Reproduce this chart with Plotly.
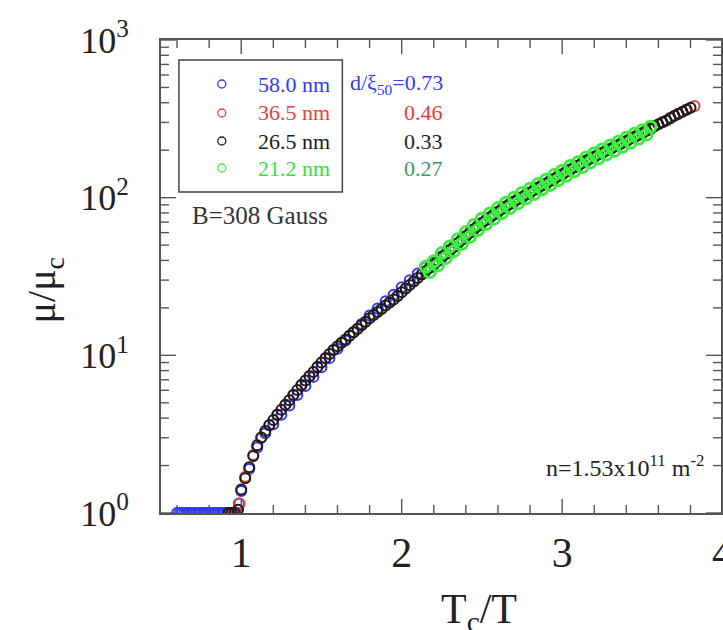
import plotly.graph_objects as go
import math

# ---------------- data ----------------
blue_x = [0.600, 0.615, 0.630, 0.645, 0.660, 0.675, 0.690, 0.705, 0.720, 0.735, 0.750, 0.765,
          0.780, 0.795, 0.810, 0.825, 0.840, 0.855, 0.870, 0.885, 0.900, 0.915, 0.930, 0.945,
          0.960, 0.985,
          1.00, 1.05, 1.10, 1.15, 1.20, 1.25, 1.30, 1.35, 1.40, 1.45, 1.50, 1.55, 1.60, 1.65,
          1.70, 1.75, 1.80, 1.85, 1.90, 1.95, 2.00, 2.05, 2.10, 2.15, 2.20, 2.25, 2.30, 2.35,
          2.40, 2.45, 2.50, 2.55, 2.60, 2.65, 2.70, 2.75, 2.80, 2.85, 2.90, 2.95, 3.00, 3.05,
          3.10, 3.15, 3.20, 3.25, 3.30, 3.35, 3.40, 3.45, 3.50, 3.55]
blue_y = [1.0, 1.0, 1.0, 1.0, 1.0, 1.0, 1.0, 1.0, 1.0, 1.0, 1.0, 1.0,
          1.0, 1.0, 1.0, 1.0, 1.0, 1.0, 1.0, 1.0, 1.0, 1.0, 1.0, 1.0,
          1.0, 1.15,
          1.38, 1.9, 2.6, 3.2, 3.65, 4.2, 4.8, 5.6, 6.4, 7.3, 8.4, 9.6, 11.0, 12.4,
          14.0, 15.8, 17.9, 19.8, 22.0, 24.2, 27.0, 29.9, 33.0, 36.2, 38.8, 42.5, 46.8, 51.6,
          57.2, 63.0, 69.0, 74.8, 81.0, 87.6, 94.0, 100, 107, 115, 122, 131, 140, 150,
          159, 170, 181, 192, 203, 215, 228, 241, 256, 272]

red_x = [0.95, 0.97, 0.99,
         1.025, 1.075, 1.125, 1.175, 1.225, 1.275, 1.325, 1.375, 1.425, 1.475, 1.525, 1.575,
         1.625, 1.675, 1.725, 1.775, 1.825, 1.875, 1.925, 1.975, 2.025, 2.075, 2.125, 2.175,
         2.225, 2.275, 2.325, 2.375, 2.425, 2.475, 2.525, 2.575, 2.625, 2.675, 2.725, 2.775,
         2.825, 2.875, 2.925, 2.975, 3.025, 3.075, 3.125, 3.175, 3.225, 3.275, 3.325, 3.375,
         3.425, 3.475, 3.525, 3.575, 3.625, 3.675, 3.725, 3.775, 3.825]
red_y = [1.0, 1.0, 1.15,
         1.70, 2.33, 3.02, 3.62, 4.22, 4.88, 5.62, 6.50, 7.40, 8.45, 9.62, 10.8,
         12.0, 13.3, 14.8, 16.4, 18.0, 19.8, 21.7, 23.9, 26.5, 29.5, 32.8, 36.0,
         39.8, 44.0, 48.8, 54.2, 60.2, 66.3, 72.2, 78.3, 84.9, 91.4, 98.0, 105,
         112, 120, 128, 137, 146, 156, 166, 177, 188, 199, 210, 223,
         236, 250, 266, 284, 301, 320, 341, 362, 382]

black_x = [0.92, 0.94, 0.96, 0.98,
           1.000, 1.025, 1.050, 1.075, 1.100, 1.125, 1.150, 1.175, 1.200, 1.225, 1.250, 1.275,
           1.300, 1.325, 1.350, 1.375, 1.400, 1.425, 1.450, 1.475, 1.500, 1.525, 1.550, 1.575,
           1.600, 1.625, 1.650, 1.675, 1.700, 1.725, 1.750, 1.775, 1.800, 1.825, 1.850, 1.875,
           1.900, 1.925, 1.950, 1.975, 2.000, 2.025, 2.050, 2.075, 2.100, 2.125, 2.150, 2.175,
           2.200, 2.225, 2.250, 2.275, 2.300, 2.325, 2.350, 2.375, 2.400, 2.425, 2.450, 2.475,
           2.500, 2.525, 2.550, 2.575, 2.600, 2.625, 2.650, 2.675, 2.700, 2.725, 2.750, 2.775,
           2.800, 2.825, 2.850, 2.875, 2.900, 2.925, 2.950, 2.975, 3.000, 3.025, 3.050, 3.075,
           3.100, 3.125, 3.150, 3.175, 3.200, 3.225, 3.250, 3.275, 3.300, 3.325, 3.350, 3.375,
           3.400, 3.425, 3.450, 3.475, 3.500, 3.525, 3.550, 3.575, 3.600, 3.625, 3.650, 3.675,
           3.700, 3.725, 3.750, 3.775, 3.800]
black_y = [1.0, 1.0, 1.0, 1.05,
           1.41, 1.66, 1.95, 2.30, 2.69, 3.00, 3.31, 3.60, 3.89, 4.20, 4.52, 4.85,
           5.19, 5.60, 6.03, 6.46, 6.92, 7.38, 7.85, 8.42, 9.02, 9.60, 10.2, 10.8,
           11.4, 12.0, 12.6, 13.3, 14.0, 14.7, 15.5, 16.3, 17.2, 18.0, 18.8, 19.7,
           20.7, 21.6, 22.6, 23.8, 25.1, 26.5, 27.9, 29.4, 30.9, 32.6, 34.3, 35.9,
           37.6, 39.6, 41.7, 43.9, 46.2, 48.7, 51.3, 54.0, 56.9, 59.9, 63.1, 66.1,
           69.2, 72.1, 75.0, 78.1, 81.3, 84.6, 88.1, 91.2, 94.4, 97.6, 101, 104.5,
           108, 112, 116, 119.5, 123, 127.5, 132, 136.5, 141, 146, 151, 155.5,
           160, 166, 172, 177, 182, 187.5, 193, 198.5, 204, 210, 216, 222.5,
           229, 236, 243, 250, 257, 266, 275, 283.5, 292, 300.5, 309, 320,
           331, 341, 351, 361.5, 372]

green_x = [2.150, 2.175, 2.200, 2.225, 2.250, 2.275, 2.300, 2.325, 2.350, 2.375, 2.400, 2.425,
           2.450, 2.475, 2.500, 2.525, 2.550, 2.575, 2.600, 2.625, 2.650, 2.675, 2.700, 2.725,
           2.750, 2.775, 2.800, 2.825, 2.850, 2.875, 2.900, 2.925, 2.950, 2.975, 3.000, 3.025,
           3.050, 3.075, 3.100, 3.125, 3.150, 3.175, 3.200, 3.225, 3.250, 3.275, 3.300, 3.325,
           3.350, 3.375, 3.400, 3.425, 3.450, 3.475, 3.500, 3.525, 3.550]
green_y = [36.5, 33.8, 39.5, 37.2, 44.5, 41.5, 49.0, 45.8, 54.5, 51.0, 60.5, 56.4,
           67.0, 62.4, 73.5, 68.0, 79.5, 73.6, 86.0, 79.8, 93.0, 86.0, 99.8, 92.3,
           107, 98.8, 114, 105.5, 122, 113, 130, 120.5, 139, 129, 148, 137.5,
           159, 147, 168, 156.5, 180, 167, 191, 177, 202, 188, 214, 198,
           226, 210, 240, 223, 254, 236, 268, 251, 282]

thickness_labels = ["58.0 nm", "36.5 nm", "26.5 nm", "21.2 nm"]
ratio_labels = ["d/\u03be<sub>50</sub>=0.73", "0.46", "0.33", "0.27"]
x_tick_vals = [1, 2, 3]
y_tick_vals = [1, 10, 100, 1000]
y_tick_text = ["10<sup>0</sup>", "10<sup>1</sup>", "10<sup>2</sup>", "10<sup>3</sup>"]

# ---------------- styling ----------------
FONT = "Liberation Serif"
marker_colors = ["#2f3cf0", "#e5443c", "#1c1c1c", "#3cef3c"]
legend_text_colors = ["#2f3cf0", "#e5443c", "#1c1c1c", "#3cdc3c"]
ratio_colors = ["#2f3cf0", "#f03a32", "#222222", "#3a9a5e"]
AX = "#555555"

W, H = 723, 630
L, R, T, B = 161, 723, 40, 513
PW, PH = R - L, B - T
XR = [0.5, 3.99]
YR = [0, 3]


def px(xp):
    return (xp - L) / PW


def py(yp):
    return (B - yp) / PH


fig = go.Figure()

# tick positions derived from the axis ranges
x_ticks = [round(0.6 + 0.2 * i, 1) for i in range(17)]
y_ticks = [m * 10 ** d for d in range(3) for m in range(1, 10)] + [1000]


def is_major_x(v):
    return abs(v - round(v)) < 1e-9


def is_major_y(v):
    lv = math.log10(v)
    return abs(lv - round(lv)) < 1e-9


# bottom and left inward ticks drawn as a line trace on the data axes
tx, ty = [], []
for v in x_ticks:
    ln_px = 14 if is_major_x(v) else 8
    tx += [v, v, None]
    ty += [10 ** YR[0], 10 ** (YR[0] + ln_px * (YR[1] - YR[0]) / PH), None]
for v in y_ticks:
    ln_px = 15 if is_major_y(v) else 8
    tx += [XR[0], XR[0] + ln_px * (XR[1] - XR[0]) / PW, None]
    ty += [v, v, None]
fig.add_trace(go.Scatter(x=tx, y=ty, mode="lines", showlegend=False, hoverinfo="skip",
                         line=dict(color=AX, width=1.4), cliponaxis=False))

series = [(blue_x, blue_y), (red_x, red_y), (black_x, black_y), (green_x, green_y)]
sizes = [10, 10, 10, 11]
widths = [2.0, 2.0, 2.0, 3.0]
for (xs, ys), col, name, sz, lw in zip(series, marker_colors, thickness_labels, sizes, widths):
    fig.add_trace(go.Scatter(
        x=xs, y=ys, mode="markers", name=name, showlegend=False,
        marker=dict(symbol="circle-open", size=sz, color=col, line=dict(width=lw)),
    ))

shapes = [dict(type="rect", xref="paper", yref="paper",
               x0=px(179), x1=px(343), y0=py(192), y1=py(60),
               line=dict(color="#444444", width=1.5), fillcolor="rgba(0,0,0,0)")]

# top and right inward ticks as shapes
tick_line = dict(color=AX, width=1.4)
for v in x_ticks:
    ln = (14 if is_major_x(v) else 8) / PH
    xf = (v - XR[0]) / (XR[1] - XR[0])
    shapes.append(dict(type="line", xref="paper", yref="paper",
                       x0=xf, x1=xf, y0=1 - ln, y1=1, line=tick_line))
for v in y_ticks:
    ln = (15 if is_major_y(v) else 8) / PW
    yf = (math.log10(v) - YR[0]) / (YR[1] - YR[0])
    shapes.append(dict(type="line", xref="paper", yref="paper",
                       x0=1 - ln, x1=1, y0=yf, y1=yf, line=tick_line))

leg_rows = [84, 113, 141, 168]
annotations = []
for i, r in enumerate(leg_rows):
    shapes.append(dict(type="circle", xref="paper", yref="paper",
                       xsizemode="pixel", ysizemode="pixel",
                       xanchor=px(222), yanchor=py(r), x0=-4, x1=4, y0=-4, y1=4,
                       line=dict(color=marker_colors[i], width=1.3),
                       fillcolor="rgba(0,0,0,0)"))
    annotations.append(dict(xref="paper", yref="paper", x=px(256), y=py(r), xanchor="left",
                            yanchor="middle", showarrow=False, text=thickness_labels[i],
                            font=dict(family=FONT, size=22, color=legend_text_colors[i])))
    annotations.append(dict(xref="paper", yref="paper", x=px(446), y=py(r), xanchor="right",
                            yanchor="middle", showarrow=False, text=ratio_labels[i],
                            font=dict(family=FONT, size=22, color=ratio_colors[i])))

annotations.append(dict(xref="paper", yref="paper", x=px(190), y=py(215), xanchor="left",
                        yanchor="middle", showarrow=False, text="B=308 Gauss",
                        font=dict(family=FONT, size=25, color="#333333")))
annotations.append(dict(xref="paper", yref="paper", x=px(708), y=py(466), xanchor="right",
                        yanchor="middle", showarrow=False,
                        text="n=1.53x10<sup>11</sup> m<sup>-2</sup>",
                        font=dict(family=FONT, size=24, color="#222222")))
annotations.append(dict(xref="paper", yref="paper", x=px(480), y=py(612), xanchor="center",
                        yanchor="middle", showarrow=False, text="T<sub>c</sub>/T",
                        font=dict(family=FONT, size=42, color="#222222")))
annotations.append(dict(xref="paper", yref="paper", x=px(44), y=py(290), xanchor="center",
                        yanchor="middle", showarrow=False, text="\u03bc/\u03bc<sub>c</sub>",
                        textangle=-90, font=dict(family=FONT, size=40, color="#222222")))
annotations.append(dict(xref="paper", yref="paper", x=(4 - XR[0]) / (XR[1] - XR[0]), y=py(553),
                        xanchor="center", yanchor="middle", showarrow=False, text="4",
                        font=dict(family=FONT, size=42, color="#222222")))

fig.update_layout(
    width=W, height=H, autosize=False,
    margin=dict(l=L, r=W - R, t=T, b=H - B, pad=0),
    paper_bgcolor="white", plot_bgcolor="white",
    showlegend=False,
    font=dict(family=FONT, color="#222222"),
    xaxis=dict(range=XR, tickmode="array", tickvals=x_tick_vals,
               ticktext=[str(v) for v in x_tick_vals],
               ticks="", showline=True, linecolor=AX, linewidth=1.5, mirror=True,
               showgrid=False, zeroline=False, ticklabelstandoff=2,
               tickfont=dict(family=FONT, size=42, color="#222222")),
    yaxis=dict(type="log", range=YR, tickmode="array", tickvals=y_tick_vals,
               ticktext=[t + "\u2009" for t in y_tick_text],
               ticks="", showline=True, linecolor=AX, linewidth=1.5, mirror=True,
               showgrid=False, zeroline=False, ticklabelstandoff=16,
               tickfont=dict(family=FONT, size=36, color="#222222")),
    shapes=shapes,
    annotations=annotations,
)

fig.write_html("out.html")
